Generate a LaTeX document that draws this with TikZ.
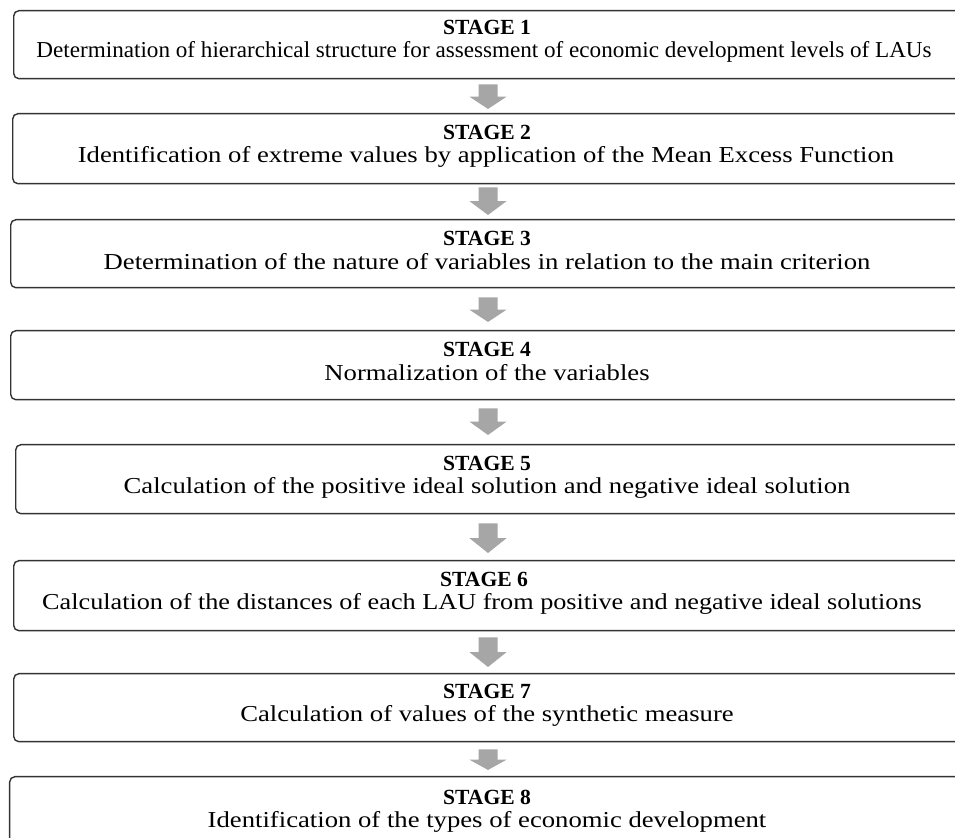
\documentclass[tikz,border=0pt]{standalone}
\usepackage{fontspec}
\setmainfont{Liberation Serif}
\usetikzlibrary{calc}
\definecolor{arrowgray}{HTML}{A6A6A6}
\tikzset{
  stagebox/.style={draw=black!80, line width=0.7pt, rounded corners=2.6pt, anchor=north west,
    minimum height=#1*0.5pt, minimum width=490pt, inner sep=0pt},
  stagetitle/.style={font=\fontsize{10.8}{13}\selectfont\bfseries, inner sep=0pt},
  stagetext/.style={font=\fontsize{11.4}{13}\selectfont, inner sep=0pt},
}
\newcommand\wide[2][1.17]{\scalebox{#1}[1]{#2}}
\newcommand\blockarrow[4]{%
  \path ($(#1.south -| ax)+(0,#3)$) coordinate (s) ($(#2.north -| ax)+(0,-#4)$) coordinate (e);
  \fill[arrowgray] ($(s)+(-9.5,0)$) -- ($(s)+(9.5,0)$) -- ($(s)!0.5!(e)+(9.5,0)$) -- ($(s)!0.5!(e)+(18.5,0)$)
    -- (e) -- ($(s)!0.5!(e)+(-18.5,0)$) -- ($(s)!0.5!(e)+(-9.5,0)$) -- cycle;}
\begin{document}
\begin{tikzpicture}[x=0.5pt,y=-0.5pt]
\useasboundingbox (0,0) rectangle (955,838);
\clip (0,0) rectangle (955,838);
\coordinate (ax) at (488,0);
% boxes
\node[stagebox=68] (b1) at (13,10) {};
\node[stagebox=70] (b2) at (12,113) {};
\node[stagebox=68] (b3) at (10,219) {};
\node[stagebox=69] (b4) at (10,330) {};
\node[stagebox=69] (b5) at (15,444) {};
\node[stagebox=70] (b6) at (13,560) {};
\node[stagebox=68] (b7) at (13,673) {};
\node[stagebox=80] (b8) at (9,776) {};
% texts
\node[stagetitle] (s1) at (487,27) {STAGE 1};
\node[stagetext]  (d1) at (484,52) {\wide[1.015]{Determination of hierarchical structure for assessment of economic development levels of LAUs}};
\node[stagetitle] (s2) at (487,132) {STAGE 2};
\node[stagetext]  (d2) at (486,157) {\wide{Identification of extreme values by application of the Mean Excess Function}};
\node[stagetitle] (s3) at (487,238) {STAGE 3};
\node[stagetext]  (d3) at (487,262) {\wide{Determination of the nature of variables in relation to the main criterion}};
\node[stagetitle] (s4) at (487,349) {STAGE 4};
\node[stagetext]  (d4) at (487,373) {\wide{Normalization of the variables}};
\node[stagetitle] (s5) at (487,463) {STAGE 5};
\node[stagetext]  (d5) at (487,488) {\wide{Calculation of the positive ideal solution and negative ideal solution}};
\node[stagetitle] (s6) at (484,579) {STAGE 6};
\node[stagetext]  (d6) at (482,604) {\wide[1.15]{Calculation of the distances of each LAU from positive and negative ideal solutions}};
\node[stagetitle] (s7) at (487,691) {STAGE 7};
\node[stagetext]  (d7) at (487,716) {\wide{Calculation of values of the synthetic measure}};
\node[stagetitle] (s8) at (487,797) {STAGE 8};
\node[stagetext]  (d8) at (487,822) {\wide{Identification of the types of economic development}};
% arrows
\blockarrow{b1}{b2}{5}{4}
\blockarrow{b2}{b3}{3}{4}
\blockarrow{b3}{b4}{9}{8}
\blockarrow{b4}{b5}{8}{9}
\blockarrow{b5}{b6}{9}{7}
\blockarrow{b6}{b7}{6}{6}
\blockarrow{b7}{b8}{7}{6}
\end{tikzpicture}
\end{document}
